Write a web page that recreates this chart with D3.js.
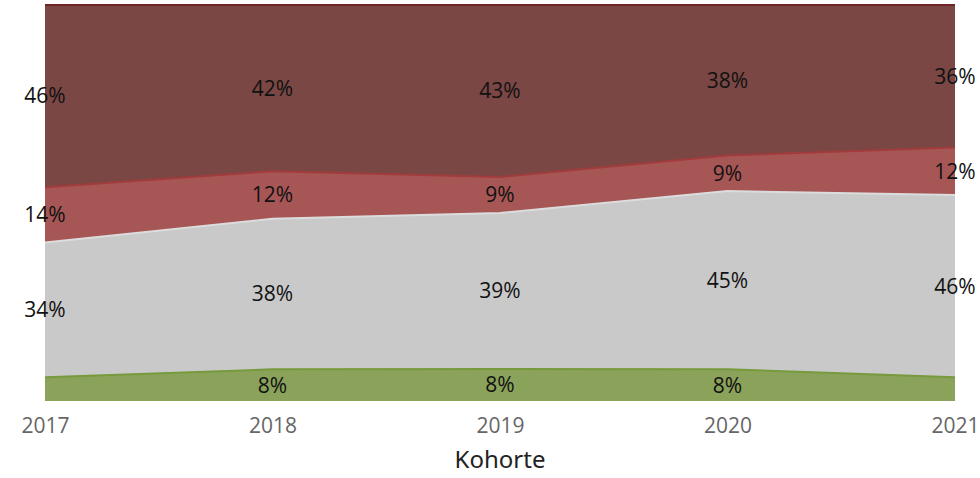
<!DOCTYPE html>
<html>
<head>
<meta charset="utf-8">
<script src="https://cdn.jsdelivr.net/npm/d3@7"></script>
<style>
  body { margin: 0; background: #fff; overflow: hidden; }
  svg { display: block; }
  .lbl { font-family: "Open Sans", "Noto Sans", sans-serif; font-size: 21px; fill: #111; }
  .tick text { font-family: "Open Sans", "Noto Sans", sans-serif; font-size: 21px; fill: #666; }
</style>
</head>
<body>
<div class="chart"></div>
<script>
// Kohorte years and shares per group (bottom to top)
const years = ["2017", "2018", "2019", "2020", "2021"];
const green = [6, 8, 8, 8, 6];
const gray = [34, 38, 39, 45, 46];
const red = [14, 12, 9, 9, 12];
const brown = [46, 42, 43, 38, 36];

const keys = ["green", "gray", "red", "brown"];
const fills = { green: "#8aa25a", gray: "#c9c9c9", red: "#a75656", brown: "#7a4744" };
const strokes = { green: "#779a3c", gray: "#dcdcdc", red: "#a23c3c", brown: "#6e2628" };

const table = years.map((y, i) => ({
    year: y, green: green[i], gray: gray[i], red: red[i], brown: brown[i]
}));

const W = 980, H = 478;
const margin = { top: 5, right: 25, bottom: 77, left: 45 };
const width = W - margin.left - margin.right;
const height = H - margin.top - margin.bottom;

const svg = d3.select(".chart")
    .append("svg")
    .attr("width", W)
    .attr("height", H)
    .append("g")
    .attr("transform", `translate(${margin.left},${margin.top})`);

const x = d3.scalePoint().domain(years).range([0, width]);
const y = d3.scaleLinear().domain([0, 1]).range([height, 0]);

const series = d3.stack().keys(keys).offset(d3.stackOffsetExpand)(table);

const area = d3.area()
    .x(d => x(d.data.year))
    .y0(d => y(d[0]))
    .y1(d => y(d[1]));

const topLine = d3.line()
    .x(d => x(d.data.year))
    .y(d => y(d[1]));

svg.selectAll(".band")
    .data(series)
    .enter()
    .append("path")
    .attr("class", "band")
    .attr("fill", d => fills[d.key])
    .attr("d", area);

svg.selectAll(".edge")
    .data(series)
    .enter()
    .append("path")
    .attr("class", "edge")
    .attr("fill", "none")
    .attr("stroke", d => strokes[d.key])
    .attr("stroke-width", 2)
    .attr("d", topLine);

// value labels, centred in each band
series.forEach(s => {
    svg.selectAll(".lbl-" + s.key)
        .data(s.filter(d => d.data[s.key] >= 7))
        .enter()
        .append("text")
        .attr("class", "lbl")
        .attr("x", d => x(d.data.year))
        .attr("y", d => y((d[0] + d[1]) / 2))
        .attr("dy", "0.35em")
        .attr("text-anchor", "middle")
        .text(d => d.data[s.key] + "%");
});

const xAxis = svg.append("g")
    .attr("transform", `translate(0,${height})`)
    .call(d3.axisBottom(x).tickSize(0).tickPadding(17));
xAxis.select(".domain").remove();

svg.append("text")
    .attr("x", width / 2)
    .attr("y", height + 67)
    .attr("text-anchor", "middle")
    .attr("font-family", "'Noto Sans', sans-serif")
    .attr("font-size", 24)
    .attr("fill", "#222")
    .text("Kohorte");
</script>
</body>
</html>
